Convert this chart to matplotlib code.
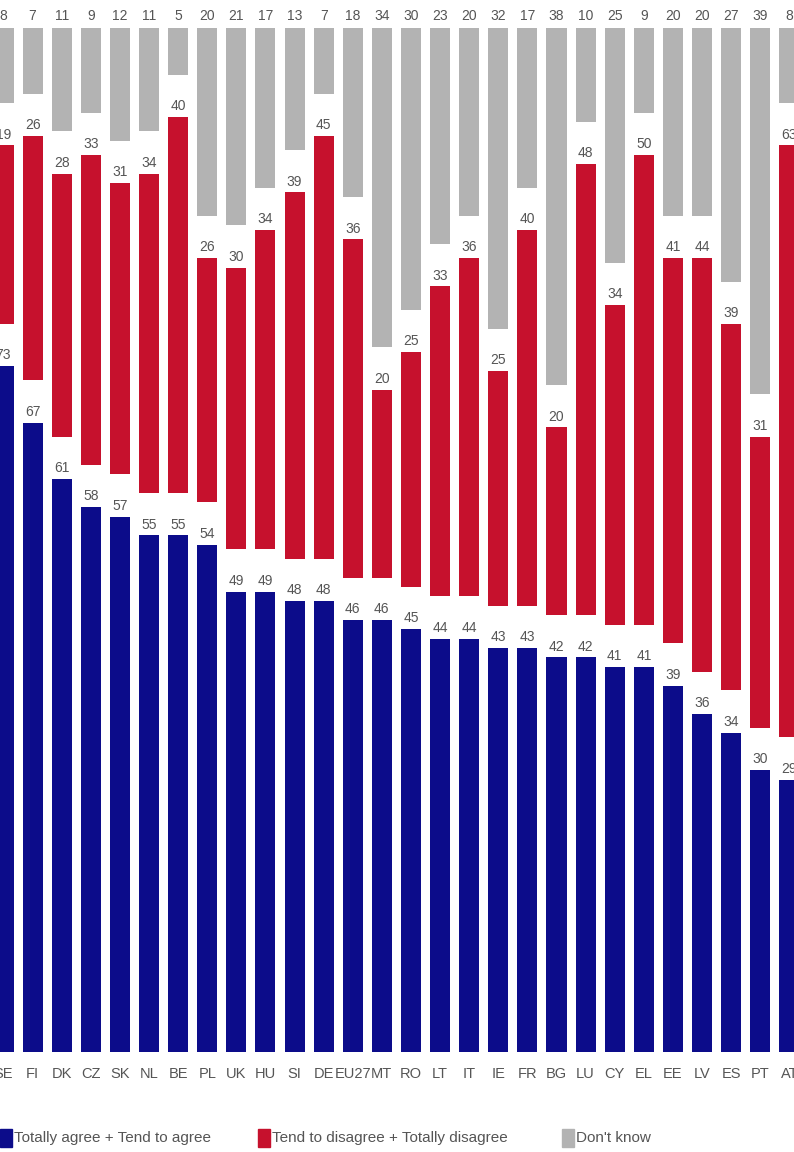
import numpy as np
import matplotlib.pyplot as plt
from matplotlib.patches import Rectangle

countries = ["SE", "FI", "DK", "CZ", "SK", "NL", "BE", "PL", "UK", "HU", "SI", "DE", "EU27", "MT",
             "RO", "LT", "IT", "IE", "FR", "BG", "LU", "CY", "EL", "EE", "LV", "ES", "PT", "AT"]
agree = [73, 67, 61, 58, 57, 55, 55, 54, 49, 49, 48, 48, 46, 46, 45, 44, 44, 43, 43, 42, 42, 41, 41, 39, 36, 34, 30, 29]
disagree = [19, 26, 28, 33, 31, 34, 40, 26, 30, 34, 39, 45, 36, 20, 25, 33, 36, 25, 40, 20, 48, 34, 50, 41, 44, 39, 31, 63]
dont_know = [8, 7, 11, 9, 12, 11, 5, 20, 21, 17, 13, 7, 18, 34, 30, 23, 20, 32, 17, 38, 10, 25, 9, 20, 20, 27, 39, 8]
legend_labels = ["Totally agree + Tend to agree", "Tend to disagree + Totally disagree", "Don't know"]

blue = "#0c0c8a"
red = "#c6112d"
grey = "#b3b3b3"
txt = "#555555"
gap = 4.5  # white space between stacked pieces, holds the value labels

plt.rcParams['font.family'] = ['Liberation Sans', 'DejaVu Sans']

fig = plt.figure(figsize=(7.94, 11.52), dpi=100)
ax = fig.add_axes([0, 1 - 1052 / 1152, 1, (1052 - 28) / 1152])

x = np.arange(len(countries))
a = np.array(agree)
d = np.array(disagree)
k = np.array(dont_know)
w = 0.69

ax.bar(x, a, w, color=blue)
ax.bar(x, d, w, bottom=a + gap, color=red)
ax.bar(x, k, w, bottom=a + d + 2 * gap, color=grey)

for i in range(len(x)):
    ax.text(x[i], a[i] + 0.4, str(a[i]), ha='center', va='bottom', fontsize=10, color=txt, clip_on=False)
    ax.text(x[i], a[i] + d[i] + gap + 0.4, str(d[i]), ha='center', va='bottom', fontsize=10, color=txt, clip_on=False)
    ax.text(x[i], 100 + 2 * gap + 0.5, str(k[i]), ha='center', va='bottom', fontsize=10, color=txt, clip_on=False)

ax.set_xlim(-0.12, 27.16)
ax.set_ylim(0, 100 + 2 * gap)
ax.set_xticks(x)
ax.set_xticklabels(countries, fontsize=10.5, color=txt)
ax.tick_params(axis='x', length=0, pad=11)
ax.set_yticks([])
for s in ax.spines.values():
    s.set_visible(False)

# legend drawn by hand to keep the wide spacing of the original
leg_x = [0, 258, 562]
for lx, lab, col in zip(leg_x, legend_labels, [blue, red, grey]):
    fig.patches.append(Rectangle((lx / 794, 1 - 1147 / 1152), 12 / 794, 18 / 1152,
                                 transform=fig.transFigure, color=col))
    fig.text((lx + 14) / 794, 1 - 1138 / 1152, lab, fontsize=11, color=txt, va='center', ha='left')

plt.savefig("out.png", dpi=100)
